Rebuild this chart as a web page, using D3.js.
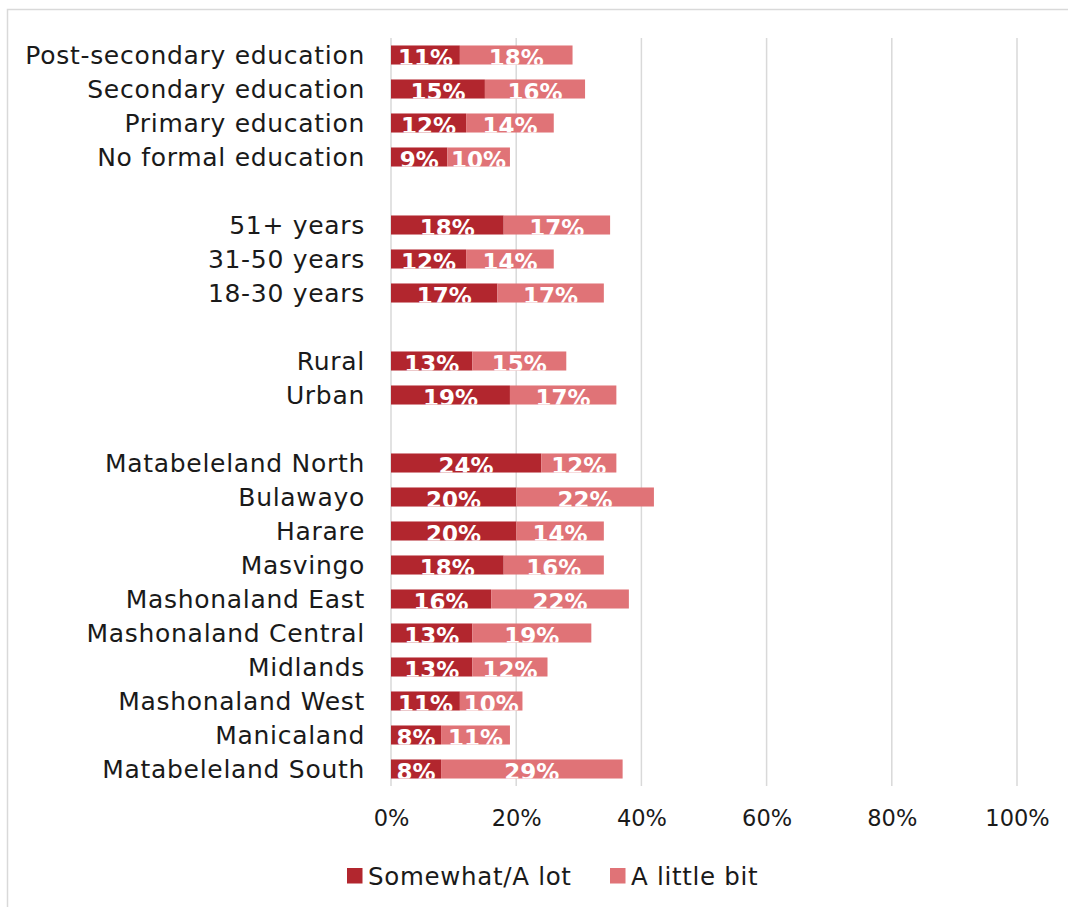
<!DOCTYPE html>
<html>
<head>
<meta charset="utf-8">
<script src="https://cdn.jsdelivr.net/npm/d3@7"></script>
<style>
  html, body { margin: 0; padding: 0; background: #fff; }
  svg { display: block; }
  text { font-family: "Century Gothic", "DejaVu Sans", sans-serif; }
</style>
</head>
<body>
<svg id="chart" width="1068" height="907"></svg>
<script>
// Row labels, top to bottom; empty strings are gaps between groups
const categories = [
  "Post-secondary education", "Secondary education", "Primary education", "No formal education",
  "",
  "51+ years", "31-50 years", "18-30 years",
  "",
  "Rural", "Urban",
  "",
  "Matabeleland North", "Bulawayo", "Harare", "Masvingo", "Mashonaland East",
  "Mashonaland Central", "Midlands", "Mashonaland West", "Manicaland", "Matabeleland South"
];
const somewhatALot = [11, 15, 12, 9, null, 18, 12, 17, null, 13, 19, null, 24, 20, 20, 18, 16, 13, 13, 11, 8, 8];
const aLittleBit   = [18, 16, 14, 10, null, 17, 14, 17, null, 15, 17, null, 12, 22, 14, 16, 22, 19, 12, 10, 11, 29];
const seriesNames = ["Somewhat/A lot", "A little bit"];
const seriesColors = ["#B2262E", "#E07377"];
const xTicks = [0, 20, 40, 60, 80, 100];

const svg = d3.select("#chart");

// outer chart frame
svg.append("rect")
  .attr("x", 7.5).attr("y", 9.5).attr("width", 1100).attr("height", 1000)
  .attr("fill", "none").attr("stroke", "#d9d9d9").attr("stroke-width", 1.5);

const x = d3.scaleLinear().domain([0, 100]).range([391, 1017]);
const y = d3.scaleBand().domain(d3.range(categories.length)).range([38, 786]).paddingInner(0.44).paddingOuter(0.22);

// vertical gridlines
svg.append("g").selectAll("line").data(xTicks).join("line")
  .attr("x1", d => x(d)).attr("x2", d => x(d))
  .attr("y1", 38).attr("y2", 786)
  .attr("stroke", "#d9d9d9").attr("stroke-width", 1.5);

const rows = categories.map((c, i) => ({ i, c, a: somewhatALot[i], b: aLittleBit[i] })).filter(r => r.c !== "");

// category labels
svg.append("g").selectAll("text").data(rows).join("text")
  .attr("x", 365)
  .attr("y", r => y(r.i) + y.bandwidth() / 2)
  .attr("dy", "0.37em")
  .attr("text-anchor", "end")
  .attr("font-size", 25)
  .attr("letter-spacing", 0.7)
  .attr("fill", "#1a1a1a")
  .text(r => r.c);

// stacked segments
const segs = [];
rows.forEach(r => {
  segs.push({ i: r.i, x0: 0, x1: r.a, v: r.a, s: 0 });
  segs.push({ i: r.i, x0: r.a, x1: r.a + r.b, v: r.b, s: 1 });
});

svg.append("g").selectAll("rect").data(segs).join("rect")
  .attr("x", d => x(d.x0))
  .attr("width", d => x(d.x1) - x(d.x0))
  .attr("y", d => y(d.i))
  .attr("height", y.bandwidth())
  .attr("fill", d => seriesColors[d.s]);

// value labels, clipped to each row's band
const defs = svg.append("defs");
rows.forEach(r => {
  defs.append("clipPath").attr("id", "clip" + r.i)
    .append("rect")
    .attr("x", x(0)).attr("y", y(r.i))
    .attr("width", x(100) - x(0)).attr("height", y.bandwidth());
});

svg.append("g").selectAll("text").data(segs).join("text")
  .attr("clip-path", d => "url(#clip" + d.i + ")")
  .attr("x", d => (x(d.x0) + x(d.x1)) / 2)
  .attr("y", d => y(d.i) + y.bandwidth() / 2 + 10.5)
  .attr("text-anchor", "middle")
  .attr("font-size", 23)
  .attr("font-weight", "bold")
  .attr("fill", "#fff")
  .text(d => d.v + "%");

// x axis labels
const xAxis = d3.axisBottom(x).tickValues(xTicks).tickFormat(d => d + "%").tickSize(0).tickPadding(0);
const ax = svg.append("g").attr("transform", "translate(0,810)").call(xAxis);
ax.select(".domain").remove();
ax.selectAll("text")
  .attr("font-size", 22.5)
  .attr("fill", "#1a1a1a")
  .attr("font-family", "\"Century Gothic\", \"DejaVu Sans\", sans-serif");

// legend
const legendX = [347, 610];
const lg = svg.append("g").selectAll("g").data(seriesNames).join("g")
  .attr("transform", (d, i) => `translate(${legendX[i]},868)`);
lg.append("rect").attr("width", 15.5).attr("height", 15.5).attr("fill", (d, i) => seriesColors[i]);
lg.append("text").attr("x", 21).attr("y", 17)
  .attr("font-size", 24.5).attr("letter-spacing", 0.7).attr("fill", "#1a1a1a")
  .text(d => d);
</script>
</body>
</html>
